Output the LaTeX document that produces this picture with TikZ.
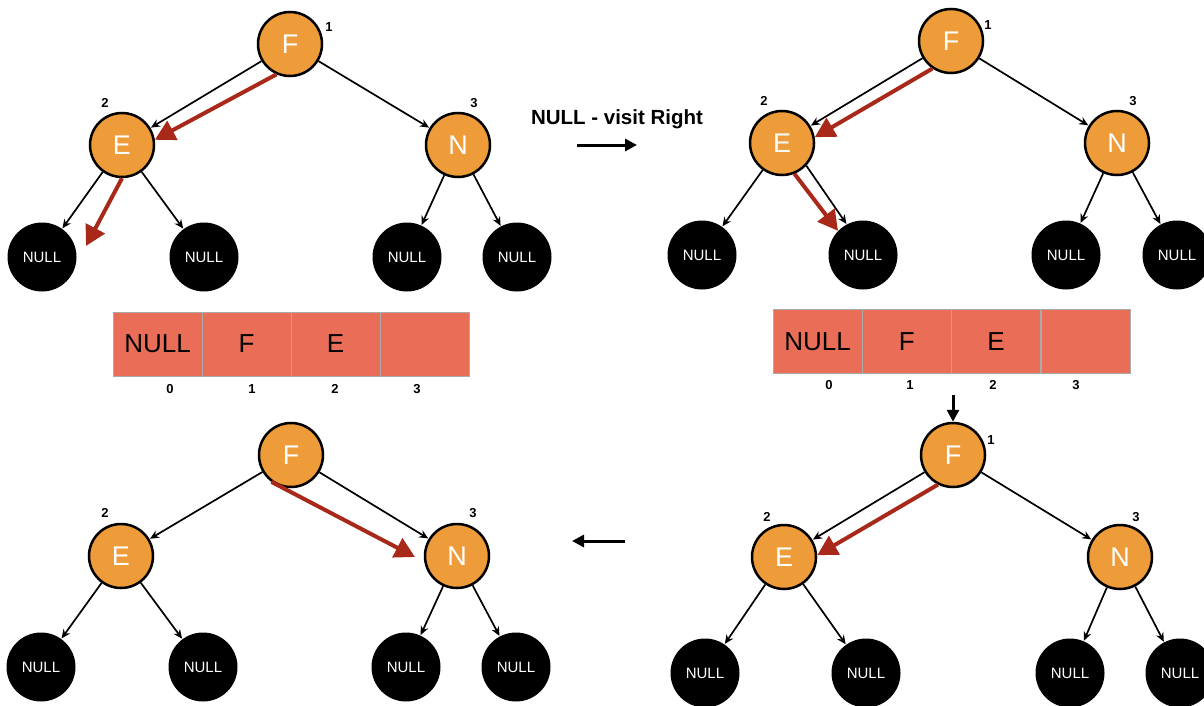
\documentclass[tikz,border=0pt]{standalone}
\usepackage{fontspec}
\setmainfont{Liberation Sans}
\usetikzlibrary{arrows.meta,calc}
\definecolor{orangeC}{RGB}{238,155,58}
\definecolor{cellC}{RGB}{234,109,88}
\definecolor{redC}{RGB}{168,41,26}
\definecolor{cellB}{RGB}{170,170,170}
\tikzset{
  onode/.style={circle, draw=black, line width=2.5pt, fill=orangeC, minimum size=64pt, inner sep=0pt, text=white, font=\fontsize{27}{27}\selectfont},
  nnode/.style={circle, fill=black, minimum size=69pt, inner sep=0pt, text=white, font=\fontsize{15}{15}\selectfont},
  edge/.style={line width=1.7pt, -{Stealth[length=9pt,width=8pt]}, shorten >=0.5pt},
  redarrow/.style={draw=redC, line width=4pt, -{Triangle[length=20pt,width=21pt]}},
  numlbl/.style={font=\bfseries\fontsize{13}{13}\selectfont},
  cell/.style={rectangle, draw=cellB, line width=0.6pt, fill=cellC, minimum width=89pt, minimum height=64pt, inner sep=0pt, font=\fontsize{26}{26}\selectfont},
  bigarrow/.style={line width=3pt, -{Triangle[length=12pt,width=12pt]}}
}
\begin{document}
\begin{tikzpicture}[x=1pt,y=-1pt]
\useasboundingbox (0,0) rectangle (1204,706);

% ---------- Tree top-left ----------
\node[onode] (F1) at (290,44) {F};
\node[onode] (E1) at (122,145) {E};
\node[onode] (N1) at (458,145) {N};
\node[nnode] (a1) at (42,257) {NULL};
\node[nnode] (b1) at (204,257) {NULL};
\node[nnode] (c1) at (407,257) {NULL};
\node[nnode] (d1) at (517,257) {NULL};
\node[numlbl] (l11) at (329,27) {1};
\node[numlbl] (l12) at (105,103) {2};
\node[numlbl] (l13) at (474,103) {3};
\draw[edge] (F1) -- (E1);
\draw[edge] (F1) -- (N1);
\draw[edge] (E1) -- (a1);
\draw[edge] (E1) -- (b1);
\draw[edge] (N1) -- (c1);
\draw[edge] (N1) -- (d1);
\coordinate (r1) at ($(a1)+(44,-11)$);
\draw[redarrow] (F1.-114) -- (E1.9);
\draw[redarrow] (E1.-90) -- (r1);

% ---------- middle text ----------
\node[font=\bfseries\fontsize{20.5}{20.5}\selectfont] (txt) at (617,119) {NULL - visit Right};
\coordinate (m1) at (577,145);
\coordinate (m2) at (637,145);
\draw[bigarrow] (m1) -- (m2);

% ---------- Tree top-right ----------
\node[onode] (F2) at (951,41) {F};
\node[onode] (E2) at (782,143) {E};
\node[onode] (N2) at (1117,143) {N};
\node[nnode] (a2) at (702,255) {NULL};
\node[nnode] (b2) at (863,255) {NULL};
\node[nnode] (c2) at (1066,255) {NULL};
\node[nnode] (d2) at (1177,255) {NULL};
\node[numlbl] (l21) at (988,25) {1};
\node[numlbl] (l22) at (764,101) {2};
\node[numlbl] (l23) at (1133,101) {3};
\draw[edge] (F2) -- (E2);
\draw[edge] (F2) -- (N2);
\draw[edge] (E2) -- (a2);
\draw[edge] (E2.-43) -- (b2.118);
\draw[edge] (N2) -- (c2);
\draw[edge] (N2) -- (d2);
\draw[redarrow] (F2.-124) -- (E2.10);
\draw[redarrow] (E2.-68) -- (b2.136);

% ---------- Array 1 ----------
\node[cell] (A0) at (157.5,344) {NULL};
\node[cell] (A1) at (246.5,344) {F};
\node[cell] (A2) at (335.5,344) {E};
\node[cell] (A3) at (424.5,344) {};
\node[numlbl] (i10) at (170,389) {0};
\node[numlbl] (i11) at (252,389) {1};
\node[numlbl] (i12) at (335,389) {2};
\node[numlbl] (i13) at (417,389) {3};

% ---------- Array 2 ----------
\node[cell] (B0) at (817.6,341.5) {NULL};
\node[cell] (B1) at (906.9,341.5) {F};
\node[cell] (B2) at (996.1,341.5) {E};
\node[cell] (B3) at (1085.4,341.5) {};
\node[numlbl] (i20) at (829,385) {0};
\node[numlbl] (i21) at (910,385) {1};
\node[numlbl] (i22) at (993,385) {2};
\node[numlbl] (i23) at (1076,385) {3};

% ---------- Tree bottom-right ----------
\node[onode] (F3) at (953,455) {F};
\node[onode] (E3) at (784,557) {E};
\node[onode] (N3) at (1120,557) {N};
\node[nnode] (a3) at (705,673) {NULL};
\node[nnode] (b3) at (866,673) {NULL};
\node[nnode] (c3) at (1070,673) {NULL};
\node[nnode] (d3) at (1180,673) {NULL};
\node[numlbl] (l31) at (991,440) {1};
\node[numlbl] (l32) at (767,517) {2};
\node[numlbl] (l33) at (1136,517) {3};
\draw[edge] (F3) -- (E3);
\draw[edge] (F3) -- (N3);
\draw[edge] (E3) -- (a3);
\draw[edge] (E3) -- (b3);
\draw[edge] (N3) -- (c3);
\draw[edge] (N3) -- (d3);
\draw[redarrow] (F3.-117) -- (E3.3);
\coordinate (dd) at (953,395);
\draw[bigarrow] (dd) -- (F3.north);

% ---------- left arrow ----------
\coordinate (la1) at (625,541);
\coordinate (la2) at (572,541);
\draw[bigarrow] (la1) -- (la2);

% ---------- Tree bottom-left ----------
\node[onode] (F4) at (291,455) {F};
\node[onode] (E4) at (121,556) {E};
\node[onode] (N4) at (457,556) {N};
\node[nnode] (a4) at (41,667) {NULL};
\node[nnode] (b4) at (203,667) {NULL};
\node[nnode] (c4) at (406,667) {NULL};
\node[nnode] (d4) at (516,667) {NULL};
\node[numlbl] (l42) at (105,513) {2};
\node[numlbl] (l43) at (473,513) {3};
\draw[edge] (F4) -- (E4);
\draw[edge] (F4) -- (N4);
\draw[edge] (E4) -- (a4);
\draw[edge] (E4) -- (b4);
\draw[edge] (N4) -- (c4);
\draw[edge] (N4) -- (d4);
\coordinate (r4) at ($(N4)+(-42,1)$);
\draw[redarrow] (F4.-126) -- (r4);
\end{tikzpicture}
\end{document}
